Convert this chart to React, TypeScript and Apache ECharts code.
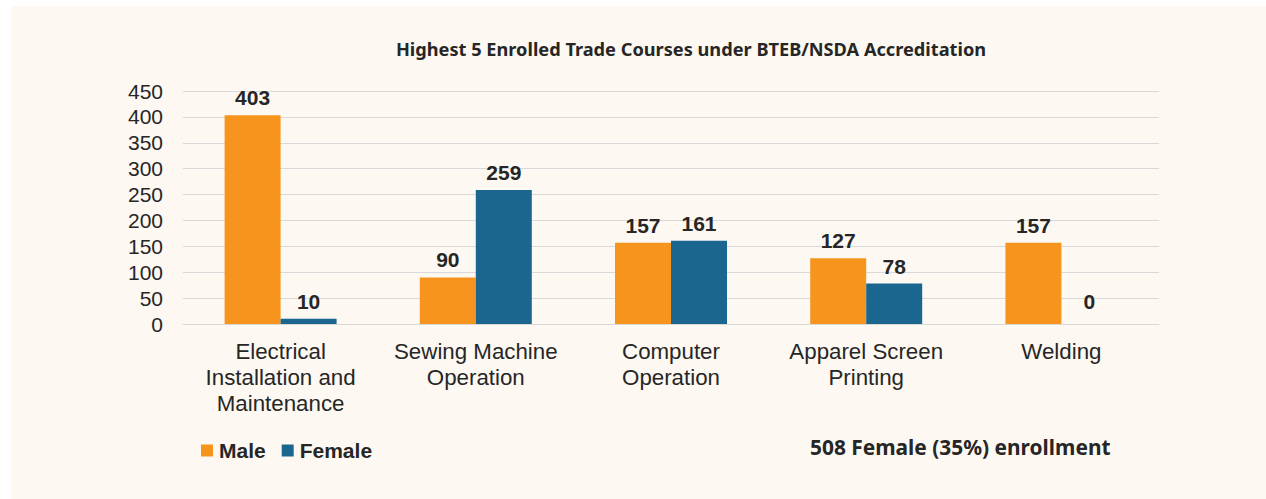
import React, { useEffect, useRef } from "react";
import * as echarts from "echarts";

const categories = [
  "Electrical\nInstallation and\nMaintenance",
  "Sewing Machine\nOperation",
  "Computer\nOperation",
  "Apparel Screen\nPrinting",
  "Welding",
];
const maleValues = [403, 90, 157, 127, 157];
const femaleValues = [10, 259, 161, 78, 0];
const titleText = "Highest 5 Enrolled Trade Courses under BTEB/NSDA Accreditation";
const noteText = "508 Female (35%) enrollment";

export default function App() {
  const ref = useRef<HTMLDivElement>(null);
  useEffect(() => {
    const chart = echarts.init(ref.current!, null, { renderer: "svg" });
    const labelStyle = {
      show: true,
      position: "top" as const,
      distance: 7,
      fontFamily: "Liberation Sans",
      fontWeight: "bold" as const,
      fontSize: 21,
      color: "#262626",
    };
    const withZeroLift = (arr: number[]) =>
      arr.map((v) => (v === 0 ? { value: v, label: { distance: 12 } } : v));
    chart.setOption({
      animation: false,
      backgroundColor: "#ffffff",
      graphic: [
        {
          type: "rect",
          z: -10,
          silent: true,
          shape: { x: 11, y: 6, width: 1255, height: 493 },
          style: { fill: "#fdf9f2" },
        },
        {
          type: "text",
          left: 810,
          top: 436,
          style: {
            text: noteText,
            fontFamily: "Noto Sans",
            fontWeight: "bold",
            fontSize: 20.9,
            fill: "#262626",
          },
        },
      ],
      title: {
        text: titleText,
        left: 686,
        top: 35,
        textAlign: "center",
        textStyle: {
          fontFamily: "Noto Sans",
          fontWeight: "bold",
          fontSize: 18.2,
          color: "#262626",
        },
      },
      legend: {
        left: 196,
        top: 435,
        itemWidth: 12,
        itemHeight: 12,
        itemGap: 16,
        icon: "rect",
        textStyle: {
          fontFamily: "Liberation Sans",
          fontWeight: "bold",
          fontSize: 21,
          color: "#262626",
          padding: [0, 0, 0, 1],
        },
        data: ["Male", "Female"],
      },
      grid: { left: 183, right: 107, top: 91, bottom: 175 },
      xAxis: {
        type: "category",
        data: categories,
        axisLine: { show: true, lineStyle: { color: "#d9d9d9", width: 1 } },
        axisTick: { show: false },
        axisLabel: {
          margin: 14,
          fontFamily: "Liberation Sans",
          fontSize: 22.3,
          color: "#262626",
          lineHeight: 26,
          interval: 0,
        },
      },
      yAxis: {
        type: "value",
        min: 0,
        max: 450,
        interval: 50,
        axisLine: { show: false },
        axisTick: { show: false },
        splitLine: { lineStyle: { color: "#d9d9d9", width: 1 } },
        axisLabel: {
          margin: 20,
          fontFamily: "Liberation Sans",
          fontSize: 21,
          color: "#262626",
        },
      },
      series: [
        {
          name: "Male",
          type: "bar",
          data: withZeroLift(maleValues),
          barWidth: 56,
          barGap: "0%",
          itemStyle: { color: "#f7941d" },
          label: labelStyle,
        },
        {
          name: "Female",
          type: "bar",
          data: withZeroLift(femaleValues),
          barWidth: 56,
          barGap: "0%",
          itemStyle: { color: "#1a668e" },
          label: labelStyle,
        },
      ],
    });
    return () => chart.dispose();
  }, []);
  return (
    <div
      ref={ref}
      style={{ position: "fixed", left: 0, top: 0, width: 1266, height: 499 }}
    />
  );
}
